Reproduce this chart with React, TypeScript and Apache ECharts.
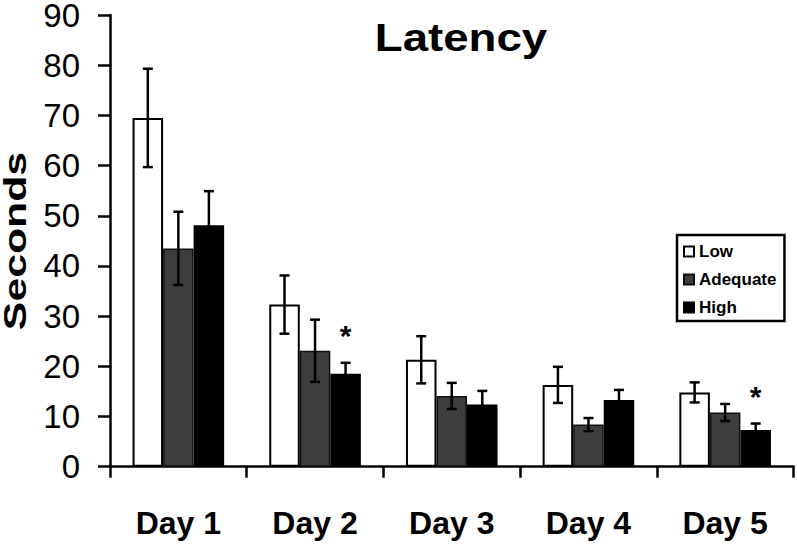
import React, { useEffect, useRef } from "react";
import * as echarts from "echarts";

const categories = ["Day 1", "Day 2", "Day 3", "Day 4", "Day 5"];
const lowValues = [69.5, 32.3, 21.3, 16.3, 14.8];
const lowErrors = [9.8, 5.8, 4.7, 3.6, 2.0];
const adequateValues = [43.5, 23.1, 14.1, 8.4, 10.8];
const adequateErrors = [7.3, 6.2, 2.6, 1.3, 1.7];
const highValues = [48.1, 18.5, 12.4, 13.3, 7.3];
const highErrors = [6.8, 2.2, 2.7, 2.0, 1.3];
const highSignificant = [false, true, false, false, true];
const yTicks = { min: 0, max: 90, interval: 10 };

const FONT = 'Arial, "Liberation Sans", sans-serif';
const CAT_GAP = 0.33;

function errorSeries(seriesIdx: number, vals: number[], errs: number[], sig?: boolean[]) {
  return {
    type: "custom",
    name: "err" + seriesIdx,
    silent: true,
    z: 10,
    data: vals.map((v, i) => [i, v, errs[i], sig && sig[i] ? 1 : 0]),
    encode: { x: 0, y: 1 },
    renderItem: (params: any, api: any) => {
      const idx = api.value(0);
      const v = api.value(1);
      const e = api.value(2);
      const s = api.value(3);
      const band = api.size([1, 0])[0];
      const barW = (band * (1 - CAT_GAP)) / 3;
      const cx = api.coord([idx, v])[0] + (seriesIdx - 1) * barW;
      const yTop = api.coord([idx, v + e])[1];
      const yBot = api.coord([idx, v - e])[1];
      const cap = 5;
      const ls = { stroke: "#000", lineWidth: 2.5 };
      const children: any[] = [
        { type: "line", shape: { x1: cx, y1: yTop, x2: cx, y2: yBot }, style: ls },
        { type: "line", shape: { x1: cx - cap, y1: yTop, x2: cx + cap, y2: yTop }, style: ls },
        { type: "line", shape: { x1: cx - cap, y1: yBot, x2: cx + cap, y2: yBot }, style: ls },
      ];
      if (s) {
        children.push({
          type: "text",
          x: cx,
          y: yTop - 27,
          style: {
            text: "*",
            font: `bold 30px ${FONT}`,
            fill: "#000",
            textAlign: "center",
            textVerticalAlign: "middle",
          },
        });
      }
      return { type: "group", children };
    },
  };
}

export default function App() {
  const ref = useRef<HTMLDivElement>(null);
  useEffect(() => {
    if (!ref.current) return;
    const chart = echarts.init(ref.current, undefined, { renderer: "svg" });
    chart.setOption({
      animation: false,
      backgroundColor: "#fff",
      textStyle: { fontFamily: FONT },
      grid: {
        left: 110,
        right: 3.5,
        top: 15,
        bottom: 77.3,
        containLabel: false,
        outerBoundsMode: "none",
      },
      graphic: [
        {
          type: "text",
          x: 461,
          y: 38,
          scaleX: 1.2,
          style: {
            text: "Latency",
            font: `bold 38px ${FONT}`,
            fill: "#000",
            textAlign: "center",
            textVerticalAlign: "middle",
          },
        },
        {
          type: "text",
          x: 15,
          y: 241,
          rotation: Math.PI / 2,
          scaleX: 1.38,
          style: {
            text: "Seconds",
            font: `bold 31px ${FONT}`,
            fill: "#000",
            textAlign: "center",
            textVerticalAlign: "middle",
          },
        },
      ],
      legend: {
        orient: "vertical",
        left: 677,
        top: 235,
        data: ["Low", "Adequate", "High"],
        icon: "rect",
        itemWidth: 10,
        itemHeight: 10,
        itemGap: 11,
        padding: [8, 8, 5, 6],
        borderColor: "#000",
        borderWidth: 2.5,
        borderRadius: 0,
        selectedMode: false,
        textStyle: { fontSize: 17, fontWeight: "bold", color: "#000", fontFamily: FONT },
      },
      xAxis: {
        type: "category",
        data: categories,
        axisLine: { lineStyle: { color: "#000", width: 2.5 } },
        axisTick: { show: true, length: 11, lineStyle: { color: "#000", width: 2.5 } },
        axisLabel: { fontSize: 32, fontWeight: "bold", color: "#000", margin: 40, fontFamily: FONT },
        splitLine: { show: false },
      },
      yAxis: {
        type: "value",
        min: yTicks.min,
        max: yTicks.max,
        interval: yTicks.interval,
        axisLine: { show: true, lineStyle: { color: "#000", width: 2.5 } },
        axisTick: { show: true, length: 12, lineStyle: { color: "#000", width: 2.5 } },
        axisLabel: { fontSize: 33, color: "#000", margin: 30, fontFamily: FONT },
        splitLine: { show: false },
      },
      series: [
        {
          type: "bar",
          name: "Low",
          data: lowValues,
          barGap: "0%",
          barCategoryGap: "33%",
          itemStyle: { color: "#fff", borderColor: "#000", borderWidth: 2 },
        },
        {
          type: "bar",
          name: "Adequate",
          data: adequateValues,
          barGap: "0%",
          barCategoryGap: "33%",
          itemStyle: { color: "#3d3d3d", borderColor: "#111", borderWidth: 1.5 },
        },
        {
          type: "bar",
          name: "High",
          data: highValues,
          barGap: "0%",
          barCategoryGap: "33%",
          itemStyle: { color: "#000", borderColor: "#000", borderWidth: 1.5 },
        },
        errorSeries(0, lowValues, lowErrors),
        errorSeries(1, adequateValues, adequateErrors),
        errorSeries(2, highValues, highErrors, highSignificant),
      ],
    });
    return () => chart.dispose();
  }, []);
  return (
    <div
      ref={ref}
      style={{ position: "fixed", left: 0, top: 0, width: 797, height: 544, background: "#fff" }}
    />
  );
}
